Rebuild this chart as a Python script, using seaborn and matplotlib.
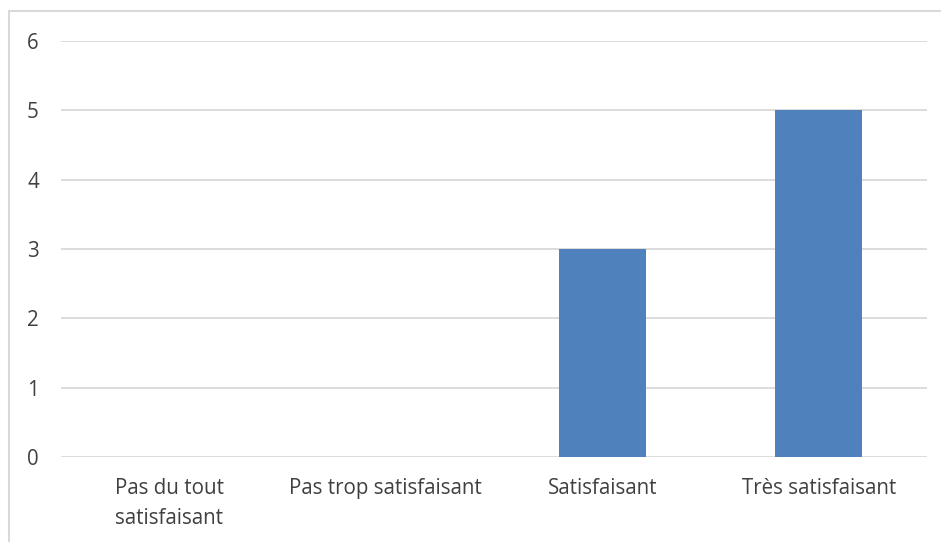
import matplotlib
matplotlib.use("Agg")
import matplotlib.pyplot as plt
import matplotlib.patches as mpatches
import pandas as pd
import seaborn as sns

categories = ["Pas du tout\nsatisfaisant", "Pas trop satisfaisant", "Satisfaisant", "Très satisfaisant"]
counts = [0, 0, 3, 5]
y_ticks = [0, 1, 2, 3, 4, 5, 6]

BAR_COLOR = "#4f81bd"
GRID_COLOR = "#d9d9d9"
TEXT_COLOR = "#404040"

sns.set_theme(style="white")
plt.rcParams["font.family"] = ["Open Sans", "DejaVu Sans"]

df = pd.DataFrame({"category": categories, "count": counts})

fig = plt.figure(figsize=(9.41, 5.42), dpi=100)
ax = fig.add_axes([61 / 941, 85 / 542, 866 / 941, 416 / 542])

sns.barplot(data=df, x="category", y="count", color=BAR_COLOR, width=0.4,
            saturation=1, edgecolor="none", linewidth=0, ax=ax, zorder=3)

ax.set_ylim(0, 6)
ax.set_yticks(y_ticks)
ax.set_xlim(-0.5, len(categories) - 0.5)
ax.yaxis.grid(True, color=GRID_COLOR, linewidth=1.3, zorder=0)
ax.xaxis.grid(False)
for spine in ax.spines.values():
    spine.set_visible(False)
ax.set_axisbelow(True)
ax.tick_params(axis="y", length=0, pad=16, labelsize=14.8, labelcolor=TEXT_COLOR)
ax.tick_params(axis="x", length=0, pad=15, labelsize=14.8, labelcolor=TEXT_COLOR)
for label in ax.get_xticklabels():
    label.set_linespacing(1.55)
ax.set_xlabel("")
ax.set_ylabel("")

# chart frame (cropped at the right and bottom in the source)
frame = mpatches.Rectangle((9 / 941, -0.1), 1.2, (542 - 11) / 542 + 0.1,
                           transform=fig.transFigure, fill=False,
                           edgecolor=GRID_COLOR, linewidth=1.5)
fig.add_artist(frame)

fig.savefig("out.png", dpi=100)
